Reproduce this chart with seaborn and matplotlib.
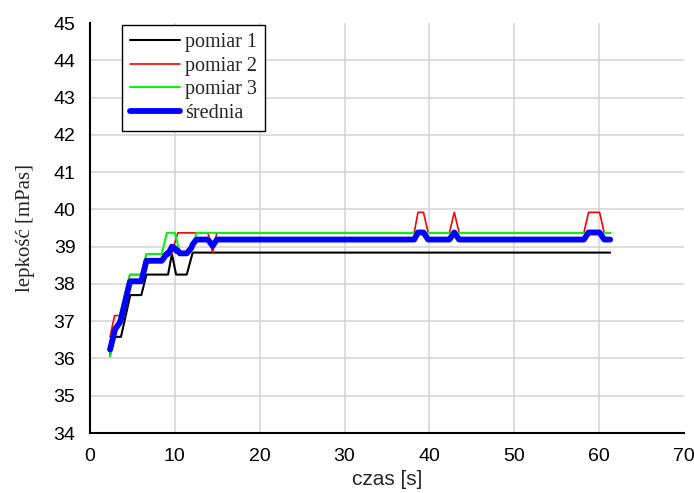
import matplotlib
matplotlib.use("Agg")
import matplotlib.pyplot as plt
import numpy as np
import pandas as pd
import seaborn as sns
from matplotlib.ticker import MultipleLocator

# Vertices of each viscosity trace: time [s] and viscosity [mPas]
t_pomiar1 = [2.36, 2.95, 3.65, 4.75, 6.05, 6.65, 9.2, 9.65, 10.15, 11.4, 12.1, 61.3]
v_pomiar1 = [36.10, 36.58, 36.58, 37.70, 37.70, 38.25, 38.25, 38.80, 38.25, 38.25,
             38.84, 38.84]

t_pomiar2 = [2.36, 2.9, 3.5, 4.7, 6.05, 6.65, 9.6, 10.35, 13.9, 14.45, 14.95,
             38.2, 38.65, 39.3, 39.85, 42.35, 42.93, 43.5,
             58.2, 58.75, 60.05, 60.6, 61.3]
v_pomiar2 = [36.58, 37.15, 37.15, 38.25, 38.25, 38.80, 38.80, 39.37, 39.37, 38.84, 39.37,
             39.37, 39.92, 39.92, 39.37, 39.37, 39.92, 39.37,
             39.37, 39.92, 39.92, 39.37, 39.37]

t_pomiar3 = [2.36, 3.5, 4.7, 6.05, 6.65, 8.45, 9.05, 10.0, 10.6, 11.95, 12.55, 61.3]
v_pomiar3 = [36.05, 37.15, 38.25, 38.25, 38.80, 38.80, 39.37, 39.37, 38.84, 38.84,
             39.37, 39.37]

t_srednia = [2.36, 2.95, 3.5, 3.65, 4.7, 4.75, 6.05, 6.65, 8.45, 9.05, 9.2, 9.6, 9.65,
             10.0, 10.15, 10.35, 10.6, 11.4, 11.95, 12.1, 12.55, 13.9, 14.45, 14.95,
             38.2, 38.65, 39.3, 39.85, 42.35, 42.93, 43.5,
             58.2, 58.75, 60.05, 60.6, 61.3]
v_srednia = [36.24, 36.78, 36.96, 37.05, 38.05, 38.07, 38.07, 38.62, 38.62, 38.81, 38.81,
             38.97, 39.00, 38.96, 38.89, 38.89, 38.82, 38.82, 38.97, 39.06, 39.19, 39.19,
             39.02, 39.19,
             39.19, 39.38, 39.38, 39.19, 39.19, 39.38, 39.19,
             39.19, 39.38, 39.38, 39.19, 39.19]

series_names = ["pomiar 1", "pomiar 2", "pomiar 3", "średnia"]
x_ticks = [0, 10, 20, 30, 40, 50, 60, 70]
y_ticks = [34, 35, 36, 37, 38, 39, 40, 41, 42, 43, 44, 45]

sns.set_style("white")
plt.rcParams["font.family"] = ["Liberation Sans", "DejaVu Sans"]

fig = plt.figure(figsize=(6.94, 4.93), dpi=100)
ax = fig.add_axes([90 / 694, 1 - 433 / 493, 594 / 694, 410 / 493])

styles = [
    (t_pomiar1, v_pomiar1, "#000000", 1.5),
    (t_pomiar2, v_pomiar2, "#ff0000", 1.2),
    (t_pomiar3, v_pomiar3, "#10f010", 1.5),
    (t_srednia, v_srednia, "#0000ff", 4.2),
]
for name, (t, v, col, lw) in zip(series_names, styles):
    df = pd.DataFrame({"czas": t, "lepkosc": v})
    sns.lineplot(data=df, x="czas", y="lepkosc", ax=ax, color=col, linewidth=lw,
                 sort=False, estimator=None, label=name,
                 solid_capstyle="round", solid_joinstyle="round", zorder=3)

ax.set_xlim(0, 70)
ax.set_ylim(34, 45)
ax.set_xticks(x_ticks)
ax.set_yticks(y_ticks)
ax.xaxis.set_minor_locator(MultipleLocator(5))
ax.yaxis.set_minor_locator(MultipleLocator(0.5))

ax.grid(True, which="major", color="#d4d4d4", linewidth=1.1, zorder=0)
ax.set_axisbelow(True)
for tick, loc in zip(ax.xaxis.get_major_ticks(), x_ticks):
    if loc in (x_ticks[0], x_ticks[-1]):
        tick.gridline.set_visible(False)
for tick, loc in zip(ax.yaxis.get_major_ticks(), y_ticks):
    if loc in (y_ticks[0], y_ticks[-1]):
        tick.gridline.set_visible(False)

for side in ("top", "right"):
    ax.spines[side].set_visible(False)
for side in ("left", "bottom"):
    ax.spines[side].set_color("black")
    ax.spines[side].set_linewidth(1.5)

ax.tick_params(which="major", direction="out", length=7.5, width=1.3, colors="black",
               labelsize=14, pad=3)
ax.tick_params(which="minor", direction="out", length=4, width=1.1, colors="black")

ax.set_xlabel("czas [s]", fontsize=15, family=["Liberation Sans", "DejaVu Sans"],
              labelpad=4)
ax.set_ylabel("lepkość [mPas]", fontsize=15, family=["Liberation Serif", "DejaVu Serif"],
              labelpad=13)

leg = ax.legend(loc="upper left", bbox_to_anchor=(32 / 594, 0.995), borderaxespad=0,
                frameon=True, fancybox=False, framealpha=1, edgecolor="black",
                prop={"family": ["Liberation Serif", "DejaVu Serif"], "size": 14.5},
                handlelength=2.5, handletextpad=0.25, labelspacing=0.22,
                borderpad=0.4)
leg.get_frame().set_linewidth(1.0)

fig.savefig("out.png", dpi=100)
